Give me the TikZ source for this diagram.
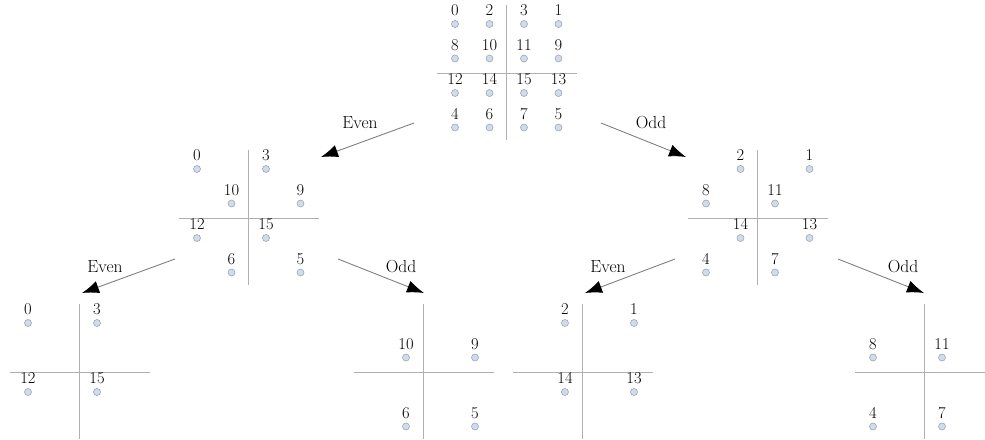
\documentclass[tikz,border=0pt]{standalone}
\usetikzlibrary{arrows.meta}
\definecolor{dotfill}{HTML}{D2DBE8}
\definecolor{dotdraw}{HTML}{9AA6B8}
\definecolor{gridc}{HTML}{B0B0B0}
\definecolor{arrc}{HTML}{808080}
\tikzset{
  dot/.style={circle,draw=dotdraw,fill=dotfill,line width=0.6pt,minimum size=7pt,inner sep=0pt},
  num/.style={inner sep=0pt,font=\fontsize{16.5}{20}\selectfont},
  lbl/.style={inner sep=0pt,font=\fontsize{17.5}{20}\selectfont},
  gridline/.style={draw=gridc,line width=0.9pt},
  arr/.style={draw=arrc,line width=0.9pt,-{Latex[length=17pt,width=12.5pt,color=black]}}
}
\newcommand\gpoint[5]{%
  \node[dot] (#1) at (#2,#3) {};
  \node[num,anchor=base] (#1l) at (#2,#3-8.5) {#4};}
\newcommand\gridlines[2]{%
  \draw[gridline] (#1+51.75,#2-19) -- (#1+51.75,#2+116);
  \draw[gridline] (#1-18,#2+49.5) -- (#1+122,#2+49.5);}
\newcommand\gp[6]{% prefix, X, Y, col, row, label
  \gpoint{#1n#6}{#2+34.5*#4}{#3+34.5*#5}{#6}{}}
\begin{document}
\begin{tikzpicture}[x=1pt,y=-1pt]
\useasboundingbox (0,0) rectangle (985,439);
% top grid
\gridlines{455}{24}
\gp{t}{455}{24}{0}{0}{0}\gp{t}{455}{24}{1}{0}{2}\gp{t}{455}{24}{2}{0}{3}\gp{t}{455}{24}{3}{0}{1}
\gp{t}{455}{24}{0}{1}{8}\gp{t}{455}{24}{1}{1}{10}\gp{t}{455}{24}{2}{1}{11}\gp{t}{455}{24}{3}{1}{9}
\gp{t}{455}{24}{0}{2}{12}\gp{t}{455}{24}{1}{2}{14}\gp{t}{455}{24}{2}{2}{15}\gp{t}{455}{24}{3}{2}{13}
\gp{t}{455}{24}{0}{3}{4}\gp{t}{455}{24}{1}{3}{6}\gp{t}{455}{24}{2}{3}{7}\gp{t}{455}{24}{3}{3}{5}
% middle left
\gridlines{197}{169}
\gp{ml}{197}{169}{0}{0}{0}\gp{ml}{197}{169}{2}{0}{3}
\gp{ml}{197}{169}{1}{1}{10}\gp{ml}{197}{169}{3}{1}{9}
\gp{ml}{197}{169}{0}{2}{12}\gp{ml}{197}{169}{2}{2}{15}
\gp{ml}{197}{169}{1}{3}{6}\gp{ml}{197}{169}{3}{3}{5}
% middle right
\gridlines{706}{169}
\gp{mr}{706}{169}{1}{0}{2}\gp{mr}{706}{169}{3}{0}{1}
\gp{mr}{706}{169}{0}{1}{8}\gp{mr}{706}{169}{2}{1}{11}
\gp{mr}{706}{169}{1}{2}{14}\gp{mr}{706}{169}{3}{2}{13}
\gp{mr}{706}{169}{0}{3}{4}\gp{mr}{706}{169}{2}{3}{7}
% bottom LL
\gridlines{28}{323}
\gp{bll}{28}{323}{0}{0}{0}\gp{bll}{28}{323}{2}{0}{3}
\gp{bll}{28}{323}{0}{2}{12}\gp{bll}{28}{323}{2}{2}{15}
% bottom LR
\gridlines{371.5}{323}
\gp{blr}{371.5}{323}{1}{1}{10}\gp{blr}{371.5}{323}{3}{1}{9}
\gp{blr}{371.5}{323}{1}{3}{6}\gp{blr}{371.5}{323}{3}{3}{5}
% bottom RL
\gridlines{530.5}{323}
\gp{brl}{530.5}{323}{1}{0}{2}\gp{brl}{530.5}{323}{3}{0}{1}
\gp{brl}{530.5}{323}{1}{2}{14}\gp{brl}{530.5}{323}{3}{2}{13}
% bottom RR
\gridlines{873}{323}
\gp{brr}{873}{323}{0}{1}{8}\gp{brr}{873}{323}{2}{1}{11}
\gp{brr}{873}{323}{0}{3}{4}\gp{brr}{873}{323}{2}{3}{7}
% arrows
\coordinate (a1s) at (414,123); \coordinate (a1t) at (321,157);
\coordinate (a2s) at (601,123); \coordinate (a2t) at (686,157);
\coordinate (a3s) at (175,259); \coordinate (a3t) at (82,293);
\coordinate (a4s) at (338,259); \coordinate (a4t) at (424,293);
\coordinate (a5s) at (675,259); \coordinate (a5t) at (585,293);
\coordinate (a6s) at (838,259); \coordinate (a6t) at (924,293);
\draw[arr] (a1s) -- (a1t);
\draw[arr] (a2s) -- (a2t);
\draw[arr] (a3s) -- (a3t);
\draw[arr] (a4s) -- (a4t);
\draw[arr] (a5s) -- (a5t);
\draw[arr] (a6s) -- (a6t);
\node[lbl] (l1) at (360,123) {Even};
\node[lbl] (l2) at (651,123) {Odd};
\node[lbl] (l3) at (105,267) {Even};
\node[lbl] (l4) at (401,267) {Odd};
\node[lbl] (l5) at (608,267) {Even};
\node[lbl] (l6) at (903,267) {Odd};
\end{tikzpicture}
\end{document}
